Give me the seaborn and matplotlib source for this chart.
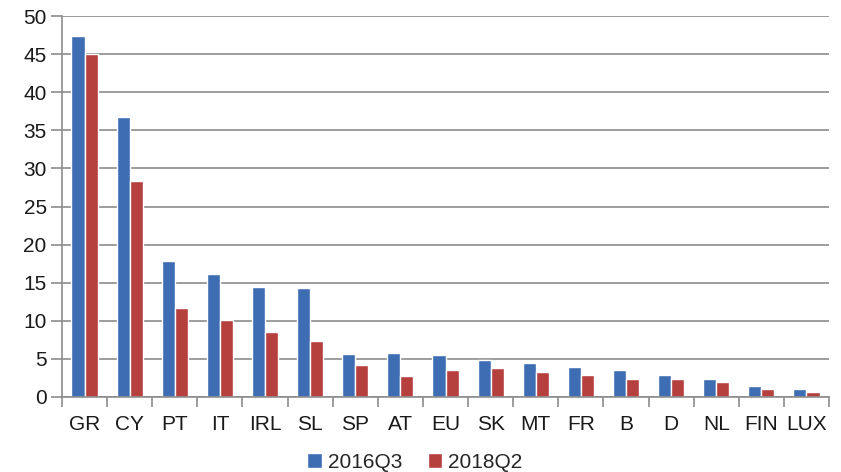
import numpy as np
import pandas as pd
import matplotlib
matplotlib.use("Agg")
import matplotlib.pyplot as plt
import seaborn as sns

# Datos
paises = ['GR', 'CY', 'PT', 'IT', 'IRL', 'SL', 'SP', 'AT', 'EU', 'SK',
          'MT', 'FR', 'B', 'D', 'NL', 'FIN', 'LUX']
q2016q3 = [47.4, 36.8, 17.8, 16.2, 14.4, 14.3, 5.7, 5.8, 5.5, 4.9,
           4.4, 4.0, 3.5, 2.85, 2.4, 1.5, 1.05]
q2018q2 = [45.0, 28.3, 11.7, 10.1, 8.5, 7.35, 4.2, 2.8, 3.5, 3.8,
           3.3, 2.85, 2.36, 2.36, 1.97, 1.05, 0.65]
series = ['2016Q3', '2018Q2']

df = pd.DataFrame({'pais': paises * 2,
                   'valor': q2016q3 + q2018q2,
                   'serie': [series[0]] * len(paises) + [series[1]] * len(paises)})

sns.set_style("white")
plt.rcParams['font.family'] = ['Liberation Sans', 'DejaVu Sans']

fig = plt.figure(figsize=(8.41, 4.72), dpi=100)
ax = fig.add_axes([62 / 841, 75 / 472, (829 - 62) / 841, (397 - 16) / 472])

colores = ['#3E6DB4', '#B6403E']
sns.barplot(data=df, x='pais', y='valor', hue='serie', palette=colores,
            width=0.58, gap=0, saturation=1, ax=ax)

gris = '#8C8C8C'
ax.set_ylim(0, 50)
ax.set_xlim(-0.5, len(paises) - 0.5)
ax.set_yticks(range(0, 51, 5))
ax.yaxis.grid(True, color=gris, linewidth=1.2)
ax.set_axisbelow(True)
ax.set_xlabel('')
ax.set_ylabel('')

for lado in ['top', 'right']:
    ax.spines[lado].set_visible(False)
for lado in ['left', 'bottom']:
    ax.spines[lado].set_color(gris)
    ax.spines[lado].set_linewidth(1.2)

# marcas del eje x entre categorías
ax.set_xticks(np.arange(-0.5, len(paises), 1), minor=True)
ax.tick_params(axis='x', which='minor', length=7, color=gris, width=1.2, direction='out')
ax.tick_params(axis='x', which='major', length=0, labelsize=15, pad=13, labelcolor='#1a1a1a')
ax.tick_params(axis='y', length=8, color=gris, width=1.2, labelsize=15, pad=3, labelcolor='#1a1a1a')
ax.tick_params(left=True, bottom=True, which='both')

ax.legend(loc='center', bbox_to_anchor=((415 - 62) / 767, -(462 - 397) / 381), ncol=2,
          frameon=False, fontsize=15, handlelength=0.7, handleheight=0.7,
          handletextpad=0.3, columnspacing=1.2, borderaxespad=0, borderpad=0)

fig.savefig('out.png', dpi=100)
